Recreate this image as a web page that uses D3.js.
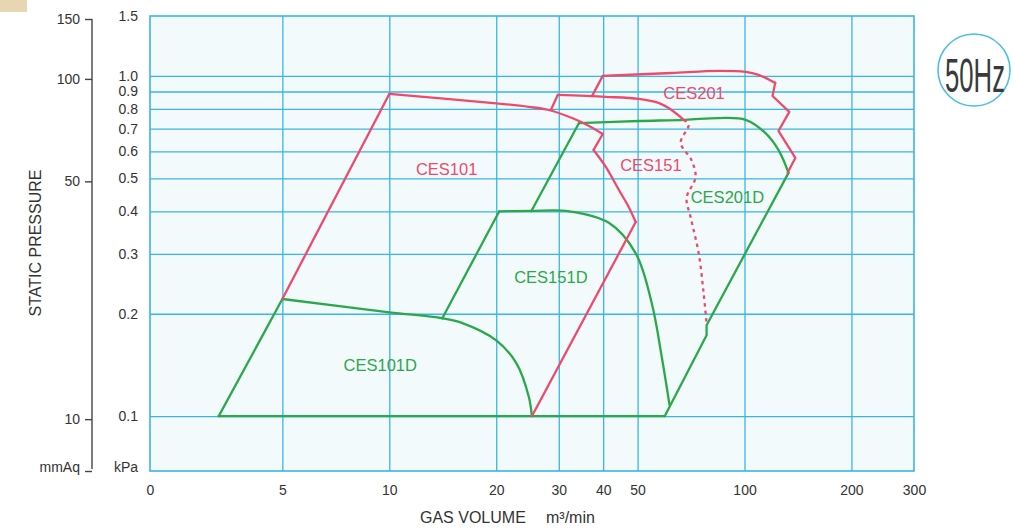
<!DOCTYPE html>
<html>
<head>
<meta charset="utf-8">
<script src="https://cdn.jsdelivr.net/npm/d3@7"></script>
<style>
body { margin: 0; background: #fff; }
svg { display: block; font-family: "Liberation Sans", Arial, sans-serif; }
</style>
</head>
<body>
<div id="chart"></div>
<script>
var RED = "#ec4b6c";
var GREEN = "#2ba84a";
var GRID = "#3ab5e9";
var TEXT = "#333";

// gas volume m3/min (log), static pressure kPa (log)
var xMin = 2.12, xMax = 300;
var yMin = 0.069, yMax = 1.5;
var KPA_PER_MMAQ = 0.0098;

var xTicks = [xMin, 5, 10, 20, 30, 40, 50, 100, 200, 300];
var xTickLabels = ["0", "5", "10", "20", "30", "40", "50", "100", "200", "300"];
var kpaTicks = [yMin, 0.1, 0.2, 0.3, 0.4, 0.5, 0.6, 0.7, 0.8, 0.9, 1.0, 1.5];
var kpaTickLabels = ["kPa", "0.1", "0.2", "0.3", "0.4", "0.5", "0.6", "0.7", "0.8", "0.9", "1.0", "1.5"];
var mmaqTicks = [yMin / KPA_PER_MMAQ, 10, 50, 100, 150];
var mmaqTickLabels = ["mmAq", "10", "50", "100", "150"];

// CES101D (green)
var ces101dBase = [[3.31, 0.1], [59.6, 0.1]];
var ces101dLeft = [[3.31, 0.1], [5, 0.221]];
var ces101dTop = [[5, 0.221], [10, 0.202], [14.1, 0.194], [16, 0.188], [20, 0.167], [22.8, 0.143], [24.7, 0.114], [25.2, 0.1]];
// CES151D (green)
var ces151dLeft = [[14.1, 0.194], [20.4, 0.40]];
var ces151dTop = [[20.4, 0.40], [25, 0.401], [32.1, 0.40], [41.5, 0.37], [49.4, 0.301], [54.8, 0.215], [58.5, 0.149], [61.5, 0.108]];
// CES201D (green)
var ces201dLeft = [[25.1, 0.40], [34.2, 0.727]];
var ces201dTop = [[34.2, 0.727], [50.4, 0.737], [68.2, 0.743], [84.5, 0.752], [100.7, 0.743], [114.6, 0.679], [124.7, 0.605], [133, 0.519]];
var ces201dRight = [[133, 0.519], [78.2, 0.185], [78.2, 0.173], [59.6, 0.1]];
// CES101 (red)
var ces101Left = [[5, 0.221], [10, 0.885]];
var ces101Top = [[10, 0.885], [20, 0.831], [24.7, 0.811], [28.1, 0.794], [32.7, 0.752], [36.5, 0.713], [39.9, 0.675]];
var ces101Notch = [[39.9, 0.675], [37.6, 0.606]];
var ces101Right = [[37.6, 0.606], [40.7, 0.540], [44.3, 0.462], [47.2, 0.412], [49.4, 0.372]];
var ces101Low = [[49.4, 0.372], [25.2, 0.1]];
// CES151 (red)
var ces151Left = [[28.5, 0.794], [29.8, 0.879]];
var ces151Top = [[29.8, 0.879], [40.7, 0.868], [50.4, 0.856], [57.3, 0.833], [62.3, 0.794], [67.4, 0.743]];
var ces151Dotted = [[67.4, 0.743], [69.6, 0.718], [66.1, 0.636], [70.9, 0.566], [72.8, 0.504], [68.7, 0.438], [70.5, 0.385], [74.3, 0.301], [76.7, 0.230], [78.2, 0.188]];
// CES201 (red)
var ces201Left = [[37.2, 0.872], [39.9, 1.0]];
var ces201Top = [[39.9, 1.0], [62.3, 1.02], [84.5, 1.034], [100.7, 1.027], [109.5, 1.007], [122, 0.954]];
var ces201Right = [[122, 0.954], [119.9, 0.873], [133.7, 0.784], [124.6, 0.689], [139, 0.574], [132.2, 0.519]];

var modelNames = ["CES101", "CES151", "CES201", "CES101D", "CES151D", "CES201D"];

var svg = d3.select("#chart").append("svg")
    .attr("width", 1013)
    .attr("height", 528);

var plotL = 150, plotR = 914, plotT = 16, plotB = 471;

var x = d3.scaleLog().domain([xMin, xMax]).range([plotL, plotR]);
var y = d3.scaleLog().domain([yMin, yMax]).range([plotB, plotT]);
var yMm = d3.scaleLog().domain([yMin / KPA_PER_MMAQ, yMax / KPA_PER_MMAQ]).range([plotB, plotT]);

svg.append("rect").attr("x", 0).attr("y", 0).attr("width", 27).attr("height", 12).attr("fill", "#e8d6b2");

svg.append("rect")
    .attr("x", plotL).attr("y", plotT)
    .attr("width", plotR - plotL).attr("height", plotB - plotT)
    .attr("fill", "#f3fafc");

// grid
var xGrid = svg.append("g").attr("transform", "translate(0," + plotB + ")")
    .call(d3.axisBottom(x).tickValues(xTicks.slice(1, -1)).tickSize(-(plotB - plotT)).tickFormat(""));
var yGrid = svg.append("g").attr("transform", "translate(" + plotL + ",0)")
    .call(d3.axisLeft(y).tickValues(kpaTicks.slice(1, -1)).tickSize(-(plotR - plotL)).tickFormat(""));
[xGrid, yGrid].forEach(function(g){
    g.select(".domain").remove();
    g.selectAll("line").attr("stroke", GRID).attr("stroke-width", 1.3);
});

svg.append("rect")
    .attr("x", plotL).attr("y", plotT)
    .attr("width", plotR - plotL).attr("height", plotB - plotT)
    .attr("fill", "none").attr("stroke", GRID).attr("stroke-width", 1.6);

// tick labels
var xAxis = svg.append("g").attr("transform", "translate(0," + plotB + ")")
    .call(d3.axisBottom(x).tickValues(xTicks).tickSize(0).tickPadding(14)
        .tickFormat(function(d, i){ return xTickLabels[i]; }));
var kpaAxis = svg.append("g").attr("transform", "translate(" + plotL + ",0)")
    .call(d3.axisLeft(y).tickValues(kpaTicks).tickSize(0).tickPadding(12)
        .tickFormat(function(d, i){ return kpaTickLabels[i]; }));
var mmAxis = svg.append("g").attr("transform", "translate(92,0)")
    .call(d3.axisLeft(yMm).tickValues(mmaqTicks).tickSize(7).tickPadding(5)
        .tickFormat(function(d, i){ return mmaqTickLabels[i]; }));

[xAxis, kpaAxis].forEach(function(g){ g.select(".domain").remove(); });
mmAxis.select(".domain").remove();
mmAxis.append("line")
    .attr("x1", 0).attr("x2", 0)
    .attr("y1", yMm(150)).attr("y2", plotB - 2)
    .attr("stroke", "#444").attr("stroke-width", 1.4);
mmAxis.selectAll(".tick line").attr("stroke", "#444").attr("stroke-width", 1.4);

[xAxis, kpaAxis, mmAxis].forEach(function(g){
    g.selectAll("text")
        .attr("fill", TEXT)
        .style("font-size", "14px")
        .style("font-family", "'Liberation Sans', Arial, sans-serif");
});
kpaAxis.selectAll(".tick text").filter(function(d){ return d === yMin; }).attr("dy", "0.05em");
mmAxis.selectAll(".tick text").filter(function(d, i){ return i === 0; }).attr("dy", "0.05em");

// axis titles
svg.append("text")
    .attr("transform", "translate(41,243) rotate(-90)")
    .attr("text-anchor", "middle")
    .attr("fill", TEXT)
    .style("font-size", "16px")
    .text("STATIC PRESSURE");

svg.append("text").attr("x", 420).attr("y", 523).attr("fill", TEXT)
    .style("font-size", "16px").text("GAS VOLUME");
svg.append("text").attr("x", 546).attr("y", 523).attr("fill", TEXT)
    .style("font-size", "16px").text("m³/min");

// curves
var straight = d3.line()
    .x(function(d){ return x(d[0]); })
    .y(function(d){ return y(d[1]); });
var smooth = d3.line()
    .x(function(d){ return x(d[0]); })
    .y(function(d){ return y(d[1]); })
    .curve(d3.curveCatmullRom.alpha(0.5));

var pieces = [
    [ces101dBase, GREEN, straight],
    [ces101dLeft, GREEN, straight],
    [ces101dTop, GREEN, smooth],
    [ces151dLeft, GREEN, straight],
    [ces151dTop, GREEN, smooth],
    [ces201dLeft, GREEN, straight],
    [ces201dTop, GREEN, smooth],
    [ces201dRight, GREEN, straight],
    [ces101Left, RED, straight],
    [ces101Top, RED, smooth],
    [ces101Notch, RED, straight],
    [ces101Right, RED, smooth],
    [ces101Low, RED, straight],
    [ces151Left, RED, straight],
    [ces151Top, RED, smooth],
    [ces201Left, RED, straight],
    [ces201Top, RED, smooth],
    [ces201Right, RED, straight]
];

pieces.forEach(function(p){
    svg.append("path")
        .attr("d", p[2](p[0]))
        .attr("fill", "none")
        .attr("stroke", p[1])
        .attr("stroke-width", 2.3)
        .attr("stroke-linejoin", "round")
        .attr("stroke-linecap", "round");
});

svg.append("path")
    .attr("d", smooth(ces151Dotted))
    .attr("fill", "none")
    .attr("stroke", RED)
    .attr("stroke-width", 2.3)
    .attr("stroke-dasharray", "3.5,4");

// model labels
var labelSpots = [[14.5, 0.511], [54.5, 0.527], [72.1, 0.854], [9.43, 0.1355], [28.5, 0.246], [89.5, 0.423]];
var labelColors = [RED, RED, RED, GREEN, GREEN, GREEN];
svg.selectAll(".model").data(modelNames).enter().append("text")
    .attr("class", "model")
    .attr("x", function(d, i){ return x(labelSpots[i][0]); })
    .attr("y", function(d, i){ return y(labelSpots[i][1]); })
    .attr("text-anchor", "middle")
    .attr("fill", function(d, i){ return labelColors[i]; })
    .style("font-size", "16.5px")
    .text(function(d){ return d; });

// frequency badge
svg.append("circle")
    .attr("cx", 974).attr("cy", 70).attr("r", 36)
    .attr("fill", "#fff").attr("stroke", "#4cbde9").attr("stroke-width", 1.6);
svg.append("text")
    .attr("x", 975).attr("y", 92)
    .attr("text-anchor", "middle")
    .attr("textLength", 60).attr("lengthAdjust", "spacingAndGlyphs")
    .attr("fill", "#3a3a3a")
    .style("font-size", "48px")
    .text("50Hz");
</script>
</body>
</html>
